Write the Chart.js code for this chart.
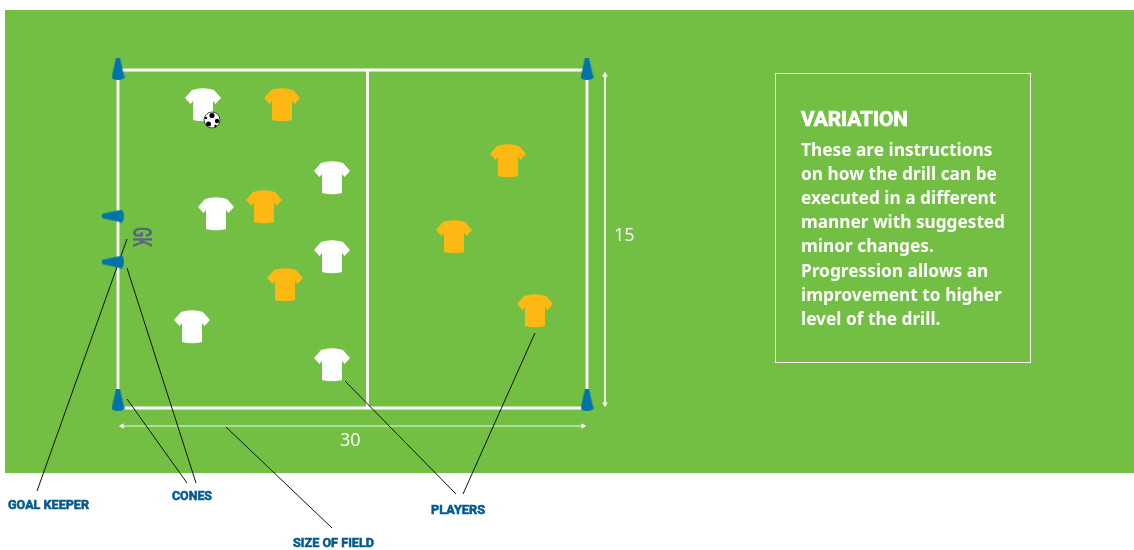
<!DOCTYPE html>
<html>
<head>
<meta charset="utf-8">
<style>
  html, body { margin: 0; padding: 0; background: #fff; }
  canvas { display: block; }
</style>
<script src="https://cdn.jsdelivr.net/npm/chart.js@4/dist/chart.umd.min.js"></script>
</head>
<body>
<canvas id="drill" width="1134" height="550"></canvas>
<script>
// players, cones and ball
const whitePlayers = [[203, 105], [216, 214], [332, 178], [332, 257], [192, 327], [332, 365]];
const yellowPlayers = [[282, 105], [264, 207], [285, 285], [508, 161], [454, 237], [535, 311]];
const ball = [[212, 120]];
const upCones = [[118, 69], [587, 69], [118, 400], [587, 400]];
const sideCones = [[113, 216], [113, 262]];

// field outline and halfway line
const fieldLines = [
  [[118, 70], [587, 70]],
  [[118, 70], [118, 408]],
  [[118, 408], [587, 408]],
  [[587, 70], [587, 408]],
  [[367.5, 70], [367.5, 408]]
];
const dimensionLines = [
  [[122, 426], [583, 426]],
  [[605, 75], [605, 404]]
];
const leaderLines = [
  [[127, 239], [37, 491]],
  [[127, 399], [187, 483]],
  [[127, 268], [196, 483]],
  [[226, 427], [332, 528]],
  [[345, 381], [456, 494]],
  [[535, 333], [463, 494]]
];

const calloutLabels = ['GOAL KEEPER', 'CONES', 'SIZE OF FIELD', 'PLAYERS'];
const dimensionLabels = ['30', '15'];
const variationTitle = 'VARIATION';
const variationLines = [
  'These are instructions',
  'on how the drill can be',
  'executed in a different',
  'manner with suggested',
  'minor changes.',
  'Progression allows an',
  'improvement to higher',
  'level of the drill.'
];

const colores = {
  verde: '#72bf44',
  blanco: '#ffffff',
  amarillo: '#fdb813',
  azul: '#0073a8',
  texto: '#005b8e',
  gk: '#56687a'
};

function toPoints(list) {
  return list.map(p => ({ x: p[0], y: p[1] }));
}

function makeCanvas(w, h, draw) {
  const c = document.createElement('canvas');
  c.width = w;
  c.height = h;
  draw(c.getContext('2d'));
  return c;
}

function shirt(color) {
  return makeCanvas(36, 34, ctx => {
    ctx.fillStyle = color;
    ctx.beginPath();
    ctx.moveTo(11, 1);
    ctx.quadraticCurveTo(18, -0.5, 25, 1);
    ctx.lineTo(29, 2);
    ctx.lineTo(36, 10);
    ctx.lineTo(30.5, 16);
    ctx.lineTo(28, 13);
    ctx.lineTo(28, 32);
    ctx.quadraticCurveTo(18, 34.5, 8, 32);
    ctx.lineTo(8, 13);
    ctx.lineTo(5.5, 16);
    ctx.lineTo(0, 10);
    ctx.lineTo(7, 2);
    ctx.closePath();
    ctx.fill();
  });
}

function cone(horizontal) {
  const w = horizontal ? 22 : 13;
  const h = horizontal ? 13 : 22;
  return makeCanvas(w, h, ctx => {
    if (horizontal) {
      ctx.translate(0, 13);
      ctx.rotate(-Math.PI / 2);
    }
    ctx.fillStyle = colores.azul;
    ctx.beginPath();
    ctx.moveTo(4.5, 0);
    ctx.lineTo(8.5, 0);
    ctx.lineTo(12.8, 19);
    ctx.quadraticCurveTo(13, 21.5, 6.5, 22);
    ctx.quadraticCurveTo(0, 21.5, 0.2, 19);
    ctx.closePath();
    ctx.fill();
  });
}

function ballIcon() {
  return makeCanvas(18, 18, ctx => {
    ctx.fillStyle = '#fff';
    ctx.strokeStyle = '#444';
    ctx.lineWidth = 1;
    ctx.beginPath();
    ctx.arc(9, 9, 8, 0, Math.PI * 2);
    ctx.fill();
    ctx.stroke();
    ctx.fillStyle = '#000';
    [[9, 4.5, 2.6], [14, 10, 2.2], [5.5, 13, 2.5], [3, 7, 1.2], [12.5, 15, 1.2]].forEach(s => {
      ctx.beginPath();
      ctx.arc(s[0], s[1], s[2], 0, Math.PI * 2);
      ctx.fill();
    });
  });
}

function segmentDatasets(segments, color, width, order) {
  return segments.map(seg => ({
    type: 'scatter',
    data: toPoints(seg),
    showLine: true,
    borderColor: color,
    borderWidth: width,
    pointRadius: 0,
    order: order
  }));
}

function markerDataset(list, style, order) {
  return {
    type: 'scatter',
    data: toPoints(list),
    pointStyle: style,
    showLine: false,
    order: order
  };
}

// arrow heads on both ends of the dimension lines
function arrowDatasets() {
  return dimensionLines.map((seg, i) => ({
    type: 'scatter',
    data: toPoints(seg),
    showLine: false,
    pointStyle: 'triangle',
    pointRadius: 3.2,
    pointBorderWidth: 0,
    backgroundColor: colores.blanco,
    pointRotation: i === 0 ? [-90, 90] : [0, 180],
    order: 6
  }));
}

// fondo verde, detras de todo
const fondoPlugin = {
  id: 'fondo',
  beforeDatasetsDraw(chart) {
    const { ctx, scales: { x, y } } = chart;
    ctx.save();
    ctx.fillStyle = colores.verde;
    ctx.fillRect(x.getPixelForValue(5), y.getPixelForValue(10),
      x.getPixelForValue(1134) - x.getPixelForValue(5),
      y.getPixelForValue(473) - y.getPixelForValue(10));
    ctx.strokeStyle = colores.blanco;
    ctx.lineWidth = 1;
    ctx.strokeRect(x.getPixelForValue(775.5), y.getPixelForValue(73.5), 255, 289);
    ctx.restore();
  }
};

const textosPlugin = {
  id: 'textos',
  afterDatasetsDraw(chart) {
    const { ctx, scales: { x, y } } = chart;
    // weight: a thin stroke on top, the installed bolds are lighter than the original
    const put = (text, px, py, font, color, maxW, weight) => {
      ctx.font = font;
      ctx.fillStyle = color;
      ctx.fillText(text, x.getPixelForValue(px), y.getPixelForValue(py), maxW);
      if (weight) {
        ctx.strokeStyle = color;
        ctx.lineWidth = weight;
        ctx.strokeText(text, x.getPixelForValue(px), y.getPixelForValue(py), maxW);
      }
    };
    ctx.save();
    ctx.textBaseline = 'alphabetic';

    const calloutFont = 'bold 13.5px Roboto';
    put(calloutLabels[0], 8, 509, calloutFont, colores.texto, 81, 0.6);
    put(calloutLabels[1], 172, 500, calloutFont, colores.texto, 40, 0.6);
    put(calloutLabels[2], 293, 547, calloutFont, colores.texto, 81, 0.6);
    put(calloutLabels[3], 431, 514, calloutFont, colores.texto, 54, 0.6);

    put(dimensionLabels[0], 340, 446, '18px "Open Sans"', colores.blanco);
    put(dimensionLabels[1], 614, 241, '18px "Open Sans"', colores.blanco);

    put(variationTitle, 801, 126, 'bold 21px Roboto', colores.blanco, 107, 0.7);
    variationLines.forEach((line, i) => {
      put(line, 801, 156 + i * 24.1, 'bold 17.3px "Noto Sans"', colores.blanco, 204);
    });

    // GK va girado
    ctx.translate(x.getPixelForValue(133), y.getPixelForValue(227));
    ctx.rotate(Math.PI / 2);
    ctx.font = 'bold 25px Roboto';
    ctx.fillStyle = colores.gk;
    ctx.fillText('GK', 0, 0, 20);
    ctx.restore();
  }
};

const datasets = [
  ...segmentDatasets(fieldLines, colores.blanco, 2.8, 8),
  ...segmentDatasets(dimensionLines, 'rgba(255,255,255,0.9)', 1, 7),
  ...arrowDatasets(),
  ...segmentDatasets(leaderLines, '#111111', 1, 5),
  markerDataset(upCones, cone(false), 3),
  markerDataset(sideCones, cone(true), 3),
  markerDataset(whitePlayers, shirt(colores.blanco), 2),
  markerDataset(yellowPlayers, shirt(colores.amarillo), 2),
  markerDataset(ball, ballIcon(), 1)
];

new Chart(document.getElementById('drill').getContext('2d'), {
  type: 'scatter',
  data: { datasets },
  options: {
    responsive: false,
    animation: false,
    layout: { padding: 0, autoPadding: false },
    plugins: { legend: { display: false }, tooltip: { enabled: false } },
    scales: {
      x: { type: 'linear', min: 0, max: 1134, display: false },
      y: { type: 'linear', min: 0, max: 550, reverse: true, display: false }
    }
  },
  plugins: [fondoPlugin, textosPlugin]
});
</script>
</body>
</html>
